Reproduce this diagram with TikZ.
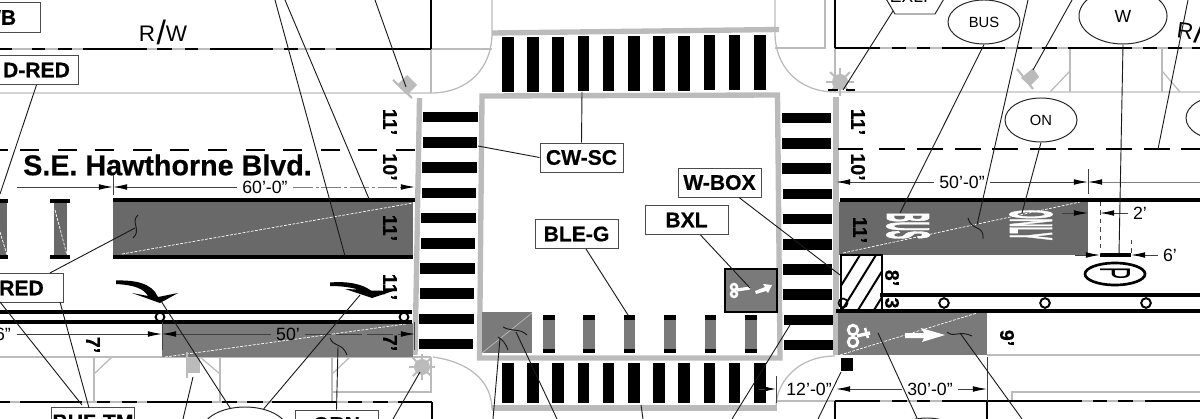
\documentclass[tikz,border=0pt]{standalone}
\usepackage{fontspec}
\setmainfont[BoldFeatures={FakeBold=0.5}]{Liberation Sans}
\newfontfamily\stencilfont[FakeBold=2.5]{Liberation Sans Bold}
\usetikzlibrary{arrows.meta, shapes.geometric}
\definecolor{curb}{HTML}{BBBBBB}
\definecolor{lane}{HTML}{696969}
\definecolor{lanelt}{HTML}{7A7A7A}
\tikzset{
  labelbox/.style={draw=black!70, fill=white, line width=0.7pt, minimum width=2.075cm, minimum height=0.725cm, inner sep=0pt, font=\fontsize{15pt}{15pt}\selectfont\bfseries},
  signell/.style={draw=black!85, fill=white, ellipse, line width=0.7pt, inner sep=0pt, font=\fontsize{10.5pt}{10.5pt}\selectfont},
  curbln/.style={draw=curb, line width=0.9pt},
  curbbar/.style={draw=curb, line width=3.8pt},
  leader/.style={draw=black!90, line width=0.65pt},
  dimln/.style={draw=black!75, line width=0.6pt},
  dimtip/.style={dimln, -{Latex[length=10pt, width=4pt, black]}},
  dimtxt/.style={inner sep=0pt, outer sep=4pt, font=\fontsize{12.6pt}{12.6pt}\selectfont},
  widthtxt/.style={inner sep=0pt, rotate=-90, font=\fontsize{14pt}{14pt}\selectfont\bfseries},
  heavy/.style={draw=black, line width=2.6pt},
  seam/.style={draw=white, line width=0.5pt, dash pattern=on 2pt off 1pt},
  hole/.style={draw=black, fill=white, line width=1.4pt, circle, minimum size=0.24cm, inner sep=0pt},
  rwtxt/.style={inner sep=0pt, font=\fontsize{16pt}{16pt}\selectfont},
}
\newcommand{\rwslash}{\hspace{1pt}\raisebox{-2pt}{\scalebox{1.5}{/}}}
\begin{document}
\begin{tikzpicture}[x=0.025cm, y=-0.025cm]
  \useasboundingbox (0, 0) rectangle (1200, 419);
  \clip (0, 0) rectangle (1200, 419);
  % curb and property lines
  \draw[curbln] (0, 49) -- (431, 49);
  \draw[curbln] (431, 49) -- (492, 49);
  \draw[curbln] (431, 49) -- (431, 93);
  \draw[curbln] (0, 93) -- (431, 93) .. controls (468, 93) and (492, 68) .. (492, 33) -- (492, 0);
  \draw[curbln] (775, 0) -- (775, 33) .. controls (775, 68) and (800, 92) .. (835, 92) -- (1200, 92);
  \draw[curbln] (775, 48) -- (825, 48) -- (825, 0);
  \draw[curbln] (835, 48) -- (835, 92);
  \draw[curbln] (835, 48) -- (1200, 48);
  \draw[curbln] (1070, 48) -- (1070, 92);
  \draw[curbln] (1070, 71) -- (1050, 92);
  \draw[curbln] (1162, 48) -- (1162, 92);
  \draw[curbln] (1162, 71) -- (1180, 92);
  \draw[curbln] (0, 357) -- (431, 357);
  \draw[curbln] (94, 357) -- (94, 402);
  \draw[curbln] (94, 374) -- (112, 357);
  \draw[curbln] (220, 357) -- (220, 402);
  \draw[curbln] (220, 374) -- (200, 357);
  \draw[curbln] (332, 357) -- (332, 402);
  \draw[curbln] (332, 374) -- (350, 357);
  \draw[curbln] (332, 392) -- (431, 392) -- (431, 357);
  \draw[curbln] (433, 357) .. controls (468, 362) and (492, 380) .. (492, 410);
  \draw[curbln] (776, 408) .. controls (776, 380) and (800, 356) .. (835, 356);
  \draw[curbln] (0, 402) -- (432, 402);
  \draw[curbln] (776, 401) -- (1200, 401);
  \draw[curbln] (987, 355) -- (1200, 355);
  \draw[curbln] (1012, 401) -- (1012, 392) -- (1200, 392);
  \draw[curbbar] (492, 33) -- (779, 29.5);
  \draw[curbbar] (492, 408) -- (777, 408);
  \draw[curbbar] (419.5, 98) -- (415, 355);
  \draw[curbbar] (836, 97) -- (836, 355);
  \draw[curbbar] (482, 96) -- (777.5, 95) -- (780, 358) -- (479.5, 358) -- cycle;
  % right of way and center lines
  \foreach \a/\b in {0/12, 32/45, 58/72, 83/147, 157/172, 185/198, 210/273, 284/298, 310/325, 336/431} {
    \draw[black, line width=1.2pt] (\a, 49) -- (\b, 49);
  }
  \foreach \a/\b in {835/880, 892/906, 917/930, 942/1005, 1017/1032, 1042/1057, 1068/1132, 1143/1157, 1168/1182, 1192/1200} {
    \draw[black, line width=1.2pt] (\a, 48) -- (\b, 48);
  }
  \foreach \a/\b in {0/10, 20/82, 97/110, 122/137, 147/212, 222/237, 247/263, 272/337, 348/362, 373/388, 398/432} {
    \draw[black, line width=1.2pt] (\a, 402) -- (\b, 402);
  }
  \foreach \a/\b in {835/880, 892/907, 917/930, 942/1082, 1093/1107, 1118/1133, 1145/1200} {
    \draw[black, line width=1.2pt] (\a, 401) -- (\b, 401);
  }
  \draw[black, line width=1.2pt] (431, 0) -- (431, 49);
  \draw[black, line width=1.2pt] (835, 0) -- (835, 48);
  \draw[black, line width=1.2pt] (432, 402) -- (432, 419);
  \draw[black, line width=1.2pt] (835, 401) -- (835, 419);
  \draw[black, line width=1.3pt] (987, 401) -- (987, 419);
  \draw[black, line width=1.6pt] (0, 150) -- (8, 150);
  \foreach \i in {0, 1, ..., 10} {
    \draw[black, line width=1.6pt] ({20 + 37.6 * \i}, 150) -- ({39 + 37.6 * \i}, 150);
  }
  \draw[black, line width=1.6pt] (838, 149) -- (863, 149);
  \foreach \i in {0, 1, ..., 8} {
    \draw[black, line width=1.6pt] ({879 + 37.8 * \i}, 149) -- ({905 + 37.8 * \i}, 149);
  }
  % crosswalks
  \foreach \i in {0, 1, ..., 10} {
    \fill[black] ({502 + 25.2 * \i}, {37 - 0.2 * \i}) rectangle ({513.5 + 25.2 * \i}, {92 - 0.2 * \i});
    \fill[black] ({502 + 25.2 * \i}, 363) rectangle ({513.5 + 25.2 * \i}, 403);
  }
  \foreach \i in {0, 1, ..., 9} {
    \fill[black] ({423 - 0.44 * \i}, {112 + 25.2 * \i}) rectangle ({478 - 0.55 * \i}, {122.5 + 25.2 * \i});
    \fill[black] ({782 + 0.2 * \i}, {113 + 25.2 * \i}) rectangle ({831 + 0.2 * \i}, {123.5 + 25.2 * \i});
  }
  % colored pavement
  \fill[lane] (113, 202) rectangle (413, 256);
  \fill[lane] (-2, 202) rectangle (7, 256);
  \fill[lane] (54, 202) rectangle (67, 256);
  \fill[lanelt] (162, 323) rectangle (413, 357);
  \fill[lane] (839, 202) rectangle (1088, 255);
  \fill[lanelt] (838, 313) rectangle (987, 355);
  \fill[lanelt] (482, 312) rectangle (532, 353);
  \foreach \i in {0, 1, ..., 5} {
    \fill[lanelt] ({543 + 40.4 * \i}, 315) rectangle ({554.5 + 40.4 * \i}, 353);
    \fill[black] ({543 + 40.4 * \i}, 315) rectangle ({554.5 + 40.4 * \i}, 319.5);
    \fill[black] ({543 + 40.4 * \i}, 349) rectangle ({554.5 + 40.4 * \i}, 353);
  }
  \draw[seam] (122, 254) -- (413, 203);
  \draw[seam] (55, 210) -- (67, 255);
  \draw[seam] (0, 232) -- (7, 255);
  \draw[seam] (165, 357) -- (413, 323);
  \draw[seam] (843, 253) -- (1080, 202);
  \draw[seam] (840, 355) -- (977, 313);
  \draw[curb, line width=0.5pt] (482, 353) -- (532, 313);
  % lane and parking lines
  \draw[heavy] (113, 200) -- (415, 200);
  \draw[heavy] (113, 257) -- (413, 257);
  \draw[heavy] (-2, 201) -- (8, 201);
  \draw[heavy] (50, 201) -- (70, 201);
  \draw[heavy] (-2, 257) -- (8, 257);
  \draw[heavy] (50, 257) -- (70, 257);
  \draw[heavy] (0, 312) -- (412, 312);
  \draw[heavy] (0, 322) -- (412, 322);
  \draw[heavy] (840, 200) -- (1200, 200);
  \draw[heavy] (880, 295) -- (1200, 295);
  \draw[heavy] (836, 311) -- (1200, 311);
  \draw[heavy, line width=3pt] (1100, 255) -- (1131, 255);
  \node[hole, minimum size=0.22cm] (holea) at (160, 317) {};
  \node[hole, minimum size=0.22cm] (holeb) at (404, 317) {};
  \node[hole] (holec) at (944, 303) {};
  \node[hole] (holed) at (1045, 303) {};
  \node[hole] (holee) at (1146, 303) {};
  % hatched box
  \draw[black, line width=1.8pt] (841, 255) rectangle (882, 310);
  \begin{scope}
    \clip (841, 255) rectangle (882, 310);
    \foreach \s in {0, 1, ..., 4} {
      \draw[black, line width=1.4pt] ({826 + 16 * \s}, 310) -- ({860 + 16 * \s}, 255);
    }
  \end{scope}
  \draw[black, line width=1.2pt] (843, 303) circle (4.5);
  % box at the far side
  \fill[lanelt] (725, 269) rectangle (777, 312);
  \draw[black, line width=1.8pt] (725, 269) rectangle (777, 312);
  \draw[white, line width=1.8pt] (734, 287) circle (3);
  \draw[white, line width=1.8pt] (734, 294) circle (3);
  \draw[white, line width=2.2pt] (737, 290) -- (750, 288);
  \fill[white] (755, 291) -- (765, 287) -- (763, 284) -- (772, 285) -- (768, 293) -- (766, 291) -- (756, 294) -- cycle;
  % pavement stencils
  \draw[white, line width=2pt] (853, 330) circle (4.8);
  \draw[white, line width=2pt] (853, 342) circle (4.8);
  \draw[white, line width=2.4pt] (857, 336) -- (870, 333);
  \draw[white, line width=1.8pt] (865, 328) -- (868, 338);
  \fill[white] (905, 333) -- (924, 333) -- (921, 328) -- (945, 335) -- (922, 342) -- (924, 338) -- (905, 338) -- cycle;
  \node[rotate=-90, inner sep=0pt, white] (busword) at (908, 226) {\resizebox{0.65cm}{1.05cm}{\stencilfont BUS}};
  \node[rotate=-90, inner sep=0pt, white] (onlyword) at (1031, 225) {\resizebox{0.75cm}{1.05cm}{\stencilfont ONLY}};
  % turn arrows
  \fill[black] (116, 280.5) .. controls (135, 280) and (152, 283) .. (158, 297) -- (178, 293) -- (160, 303) -- (132, 293) -- (148, 296) .. controls (144, 289) and (135, 285) .. (116, 284) -- cycle;
  \fill[black] (330, 282.5) .. controls (348, 281) and (362, 284) .. (371, 290.5) -- (393, 291) -- (372, 298) -- (345, 289) -- (358, 289.5) .. controls (350, 287) and (340, 286) .. (330, 286) -- cycle;
  % poles
  \fill[curb] (397, 85) -- (407, 75) -- (417, 85) -- (407, 95) -- cycle;
  \draw[curbln, line width=1.5pt] (393, 80) -- (412, 98);
  \fill[curb] (1021, 78) -- (1033, 68) -- (1039, 77) -- (1030, 86) -- cycle;
  \draw[curbln, line width=1.5pt] (1017, 69) -- (1033, 89);
  \fill[curb] (186, 357) rectangle (200, 373);
  \draw[curbln] (187, 352) -- (187, 378);
  \foreach \a in {0, 45, ..., 315} {
    \draw[curb, line width=1.4pt] (422, 367) -- ++(\a:13);
    \draw[curb, line width=1.4pt] (840, 82) -- ++(\a:14);
  }
  \fill[curb] (422, 367) circle (8);
  \fill[curb] (840, 82) circle (8);
  \draw[black, line width=0.9pt] (828, 90) -- (838, 90);
  \draw[black, line width=0.9pt] (846, 90) -- (855, 90);
  \fill[black] (841, 358) rectangle (853, 371);
  % sign in the parking lane
  \node[draw=black, line width=1.9pt, ellipse, minimum width=1.5cm, minimum height=0.55cm, inner sep=0pt] (pbay) at (1115, 274) {};
  \node[rotate=-90, inner sep=0pt] (pword) at (1115, 274) {\resizebox{0.3cm}{0.75cm}{P}};
  % text on the plan
  \node[inner sep=0pt, font=\fontsize{20.4pt}{20.4pt}\selectfont\bfseries] (street) at (167.5, 165) {S.E. Hawthorne Blvd.};
  \node[rwtxt] (rwa) at (163, 32) {R\rwslash W};
  \node[rwtxt, anchor=west, rotate=-8] (rwb) at (1177, 28) {R\rwslash W};
  \node[widthtxt] (wa) at (390, 122) {11'};
  \node[widthtxt] (wb) at (390, 167) {10'};
  \node[widthtxt] (wc) at (390, 228) {11'};
  \node[widthtxt] (wd) at (390, 287) {11'};
  \node[widthtxt] (we) at (93, 345) {7'};
  \node[widthtxt] (wf) at (390, 343) {7'};
  \node[widthtxt] (wg) at (858, 122) {11'};
  \node[widthtxt] (wh) at (858, 167) {10'};
  \node[widthtxt] (wi) at (860, 230) {11'};
  \node[widthtxt] (wj) at (892, 278) {8'};
  \node[widthtxt] (wk) at (892, 303) {3};
  \node[widthtxt] (wl) at (1007, 338) {9'};
  % dimensions
  \node[dimtxt] (dima) at (265, 187) {60'-0"};
  \coordinate (dimaleft) at (17, 187);
  \coordinate (dimamid) at (113, 187);
  \coordinate (dimaend) at (415, 187);
  \draw[dimtip] (dimaleft) -- (dimamid);
  \draw[dimtip] (dima.west) -- (dimamid);
  \draw[dimtip, draw=black!50, dash pattern=on 14pt off 2pt on 2pt off 2pt] (dima.east) -- (dimaend);
  \draw[dimln] (113, 175) -- (113, 195);
  \node[dimtxt] (dimb) at (288, 334) {50'};
  \node[dimtxt] (dimlead) at (3, 334) {6"};
  \coordinate (dimbmid) at (162, 334);
  \coordinate (dimbend) at (415, 334);
  \draw[dimtip] (dimlead.east) -- (dimbmid);
  \draw[dimtip] (dimb.west) -- (dimbmid);
  \draw[dimtip, dash pattern=on 18pt off 4pt] (dimb.east) -- (dimbend);
  \draw[dimln] (162, 322) -- (162, 350);
  \draw[dimln] (414, 322) -- (414, 350);
  \node[dimtxt] (dimc) at (962, 182) {50'-0"};
  \coordinate (dimcleft) at (836, 182);
  \coordinate (dimcmid) at (1088, 182);
  \coordinate (dimcend) at (1200, 182);
  \draw[dimtip] (dimc.west) -- (dimcleft);
  \draw[dimtip] (dimc.east) -- (dimcmid);
  \draw[dimtip, draw=black!50] (dimcend) -- (dimcmid);
  \draw[dimln] (1088, 169) -- (1088, 194);
  \node[dimtxt] (dimd) at (930, 389) {30'-0"};
  \coordinate (dimdleft) at (836, 389);
  \coordinate (dimdend) at (987, 389);
  \draw[dimtip] (dimd.west) -- (dimdleft);
  \draw[dimtip] (dimd.east) -- (dimdend);
  \draw[dimln] (987, 357) -- (987, 401);
  \node[dimtxt] (dime) at (809, 389) {12'-0"};
  \coordinate (dimeleft) at (759, 389);
  \coordinate (dimeend) at (776, 389);
  \draw[dimln, -{Latex[length=8pt, width=3.5pt, black]}] (dimeleft) -- (dimeend);
  \draw[dimln] (776, 376) -- (776, 403);
  \node[dimtxt] (dimf) at (1140, 213) {2'};
  \coordinate (dimfa) at (1062, 213);
  \coordinate (dimfb) at (1088, 213);
  \coordinate (dimfc) at (1100, 213);
  \draw[dimtip] (dimfa) -- (dimfb);
  \draw[dimtip] (dimf.west) -- (dimfc);
  \node[dimtxt] (dimg) at (1170, 255) {6'};
  \coordinate (dimga) at (1075, 255);
  \coordinate (dimgb) at (1100, 255);
  \coordinate (dimgc) at (1131, 255);
  \draw[dimtip] (dimga) -- (dimgb);
  \draw[dimtip] (dimg.west) -- (dimgc);
  \draw[dimln, dashed] (1100, 202) -- (1100, 254);
  \draw[dimln, dashed] (1131, 240) -- (1131, 254);
  % label boxes and signs
  \node[labelbox] (wbbox) at (-1.5, 17.5) {WB};
  \node[labelbox] (dred) at (36.5, 70) {D-RED};
  \node[labelbox] (red) at (21.5, 288) {RED};
  \node[labelbox] (buftm) at (93, 422) {BUF-TM};
  \node[labelbox] (orn) at (336.5, 424.5) {ORN};
  \node[labelbox] (cwsc) at (581.5, 157.5) {CW-SC};
  \node[labelbox] (wbox) at (719.5, 182.5) {W-BOX};
  \node[labelbox] (bxl) at (686.5, 220) {BXL};
  \node[labelbox] (bleg) at (576.5, 234) {BLE-G};
  \node[signell, minimum width=1.8cm, minimum height=1.1cm] (busell) at (984, 22) {BUS};
  \node[signell, minimum width=1.8cm, minimum height=1.1cm] (onell) at (1041, 120) {ON};
  \node[signell, minimum width=1.8cm, minimum height=1.1cm] (offell) at (1222, 118) {};
  \node[signell, minimum width=2.2cm, minimum height=1.4cm, font=\fontsize{12.5pt}{12.5pt}\selectfont] (well) at (1123, 16) {W};
  \node[signell, minimum width=2.15cm, minimum height=1.2cm] (lowell) at (245, 431) {};
  \node[signell, minimum width=1.8cm, minimum height=1.1cm] (lowellb) at (927, 440) {};
  \draw[black!85, line width=0.7pt, fill=white] (895, 14) -- (935, 14) -- (948, -8) -- (935, -30) -- (895, -30) -- (882, -8) -- cycle;
  \node[inner sep=0pt, font=\fontsize{12.5pt}{12.5pt}\selectfont] (exli) at (909, -4) {EXLI};
  % leader ends
  \coordinate (topa) at (275, 0);
  \coordinate (lanea) at (345, 256);
  \coordinate (topb) at (285, 0);
  \coordinate (laneb) at (369.5, 200);
  \coordinate (topc) at (375, 0);
  \coordinate (polea) at (406, 87);
  \coordinate (topd) at (1028, 0);
  \coordinate (ticka) at (977, 225);
  \coordinate (tope) at (1072, 0);
  \coordinate (poleb) at (1033, 70);
  \coordinate (topf) at (1188, 0);
  \coordinate (centerb) at (1158, 149);
  \coordinate (exlisw) at (893, 11);
  \coordinate (stara) at (843, 90);
  \coordinate (starb) at (420, 372);
  \coordinate (botc) at (393, 419);
  \coordinate (dredend) at (0, 194);
  \coordinate (tickb) at (135, 228);
  \coordinate (redb) at (60, 302);
  \coordinate (redc) at (0, 302);
  \coordinate (birda) at (161, 301);
  \coordinate (birdb) at (360, 295);
  \coordinate (polec) at (193, 377);
  \coordinate (botd) at (183, 419);
  \coordinate (tickc) at (338, 347);
  \coordinate (busmark) at (900, 213);
  \coordinate (onlymark) at (1022, 213);
  \coordinate (postw) at (1119, 254);
  \coordinate (hatch) at (840, 275);
  \coordinate (bike) at (750, 288);
  \coordinate (rack) at (628, 315);
  \coordinate (walkc) at (582, 92);
  \coordinate (walkd) at (478, 146);
  \coordinate (squarea) at (500, 338);
  \coordinate (bote) at (493, 419);
  \coordinate (squareb) at (516, 332);
  \coordinate (botf) at (557, 419);
  \coordinate (walkg) at (641, 405);
  \coordinate (both) at (643, 419);
  \coordinate (walkh) at (790, 325);
  \coordinate (boti) at (732, 419);
  \coordinate (blocka) at (841, 372);
  \coordinate (botj) at (818, 419);
  \coordinate (bikeb) at (878, 333);
  \coordinate (tickd) at (960, 333);
  \coordinate (botk) at (1022, 419);
  % leaders
  \draw[leader] (topa) -- (lanea);
  \draw[leader] (topb) -- (laneb);
  \draw[leader] (topc) -- (polea);
  \draw[leader] (topd) -- (ticka);
  \draw[leader] (tope) -- (poleb);
  \draw[leader] (topf) -- (centerb);
  \draw[leader] (exlisw) -- (stara);
  \draw[leader] (botc) -- (starb);
  \draw[leader] (dred.south) -- (dredend);
  \draw[leader] (red) -- (tickb);
  \draw[leader] (redb) -- (89, 408);
  \draw[leader] (redc) -- (82, 405);
  \draw[leader] (birda) -- (lowell);
  \draw[leader] (birdb) -- (lowell);
  \draw[leader] (polec) -- (botd);
  \draw[leader] (orn.north) -- (tickc);
  \draw[leader] (busell.south) -- (busmark);
  \draw[leader] (onell.south) -- (onlymark);
  \draw[leader] (well.south) -- (postw);
  \draw[leader] (wbox) -- (hatch);
  \draw[leader] (bxl) -- (bike);
  \draw[leader] (bleg) -- (rack);
  \draw[leader] (cwsc.north) -- (walkc);
  \draw[leader] (cwsc.west) -- (walkd);
  \draw[leader] (squarea) -- (bote);
  \draw[leader] (squareb) -- (botf);
  \draw[leader] (walkg) -- (both);
  \draw[leader] (walkh) -- (boti);
  \draw[leader] (blocka) -- (botj);
  \draw[leader] (bikeb) -- (lowellb);
  \draw[leader] (tickd) -- (botk);
  % break marks
  \draw[leader] (138, 215) .. controls (130, 222) and (142, 230) .. (133, 238);
  \draw[leader] (330, 338) .. controls (334, 348) and (342, 342) .. (347, 355);
  \draw[leader] (968, 218) .. controls (972, 232) and (984, 224) .. (983, 239);
  \draw[leader] (947, 332) .. controls (953, 338) and (960, 330) .. (972, 336);
  \draw[leader] (498, 337) .. controls (503, 340) and (506, 344) .. (508, 350);
  \draw[leader] (503, 327) .. controls (512, 332) and (520, 328) .. (527, 335);
\end{tikzpicture}
\end{document}
